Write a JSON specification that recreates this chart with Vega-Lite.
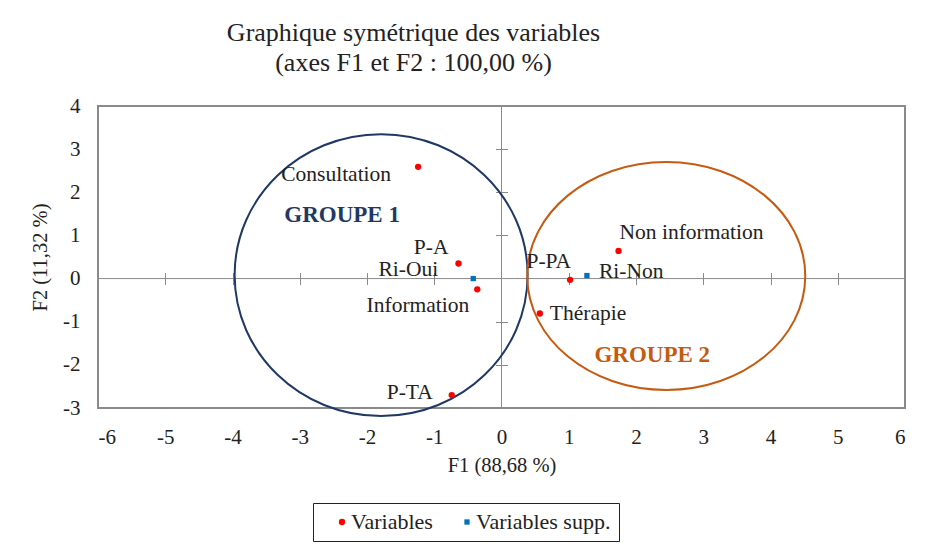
{
  "$schema": "https://vega.github.io/schema/vega-lite/v6.json",
  "width": 807,
  "height": 302,
  "autosize": "none",
  "padding": {"left": 98, "top": 106, "right": 28, "bottom": 144},
  "background": "white",
  "config": {
    "view": {"stroke": "#8a8a8a", "strokeWidth": 2},
    "font": "Liberation Serif",
    "axis": {"grid": false}
  },
  "title": {
    "text": ["Graphique symétrique des variables", "(axes F1 et F2 : 100,00 %)"],
    "fontSize": 26,
    "font": "Liberation Serif",
    "fontWeight": "normal",
    "lineHeight": 30,
    "anchor": "middle",
    "frame": "group",
    "dx": -88,
    "offset": 19,
    "color": "#222222"
  },
  "datasets": {
    "points": [
      {"name": "Consultation", "type": "Variables", "x": -1.24, "y": 2.59},
      {"name": "P-A", "type": "Variables", "x": -0.64, "y": 0.35},
      {"name": "Information", "type": "Variables", "x": -0.36, "y": -0.25},
      {"name": "P-TA", "type": "Variables", "x": -0.74, "y": -2.70},
      {"name": "P-PA", "type": "Variables", "x": 1.02, "y": -0.03},
      {"name": "Non information", "type": "Variables", "x": 1.74, "y": 0.64},
      {"name": "Thérapie", "type": "Variables", "x": 0.57, "y": -0.81},
      {"name": "Ri-Oui", "type": "Variables supp.", "x": -0.42, "y": 0.0},
      {"name": "Ri-Non", "type": "Variables supp.", "x": 1.27, "y": 0.07}
    ],
    "groups": [
      {"group": "GROUPE 1", "x": -1.79, "y": 0.08},
      {"group": "GROUPE 2", "x": 2.45, "y": 0.06}
    ]
  },
  "resolve": {"axis": {"x": "independent", "y": "independent"}},
  "layer": [
    {
      "data": {"values": [{}]},
      "mark": {"type": "rule", "color": "#8a8a8a", "strokeWidth": 1},
      "encoding": {
        "y": {
          "datum": 0, "type": "quantitative",
          "scale": {"domain": [-3, 4], "nice": false, "zero": false},
          "axis": {"orient": "left", "offset": -409.5, "domain": false, "labels": false, "ticks": true, "tickSize": 12, "tickColor": "#8a8a8a", "tickWidth": 1, "title": null, "grid": false, "values": [-2, -1, 1, 2, 3]}
        }
      }
    },
    {
      "data": {"values": [{}]},
      "mark": {"type": "rule", "color": "#8a8a8a", "strokeWidth": 1},
      "encoding": {
        "x": {
          "datum": 0, "type": "quantitative",
          "scale": {"domain": [-6, 6], "nice": false, "zero": false},
          "axis": {"orient": "bottom", "offset": -135.43, "domain": false, "labels": false, "ticks": true, "tickSize": 12, "tickColor": "#8a8a8a", "tickWidth": 1, "title": null, "grid": false, "values": [-5, -4, -3, -2, -1, 1, 2, 3, 4, 5]}
        }
      }
    },
    {
      "data": {"name": "groups"},
      "transform": [{"filter": "datum.group == 'GROUPE 1'"}],
      "mark": {"type": "point", "shape": "M -1 0 A 1 0.962 0 1 0 1 0 A 1 0.962 0 1 0 -1 0 Z", "size": 85849, "filled": false, "color": "#1f3864", "strokeWidth": 2, "opacity": 1, "clip": false},
      "encoding": {
        "x": {"field": "x", "type": "quantitative", "scale": {"domain": [-6, 6], "nice": false, "zero": false}, "axis": null},
        "y": {"field": "y", "type": "quantitative", "scale": {"domain": [-3, 4], "nice": false, "zero": false}, "axis": null}
      }
    },
    {
      "data": {"name": "groups"},
      "transform": [{"filter": "datum.group == 'GROUPE 2'"}],
      "mark": {"type": "point", "shape": "M -1 0 A 1 0.82 0 1 0 1 0 A 1 0.82 0 1 0 -1 0 Z", "size": 77284, "filled": false, "color": "#c55a11", "strokeWidth": 2, "opacity": 1, "clip": false},
      "encoding": {
        "x": {"field": "x", "type": "quantitative", "scale": {"domain": [-6, 6], "nice": false, "zero": false}, "axis": null},
        "y": {"field": "y", "type": "quantitative", "scale": {"domain": [-3, 4], "nice": false, "zero": false}, "axis": null}
      }
    },
    {
      "data": {"name": "groups"},
      "transform": [{"filter": "datum.group == 'GROUPE 1'"}],
      "mark": {"type": "text", "dx": -39, "dy": -60, "fontSize": 23, "fontWeight": "bold", "font": "Liberation Serif", "color": "#1f3864", "align": "center", "baseline": "middle"},
      "encoding": {
        "x": {"field": "x", "type": "quantitative", "scale": {"domain": [-6, 6], "nice": false, "zero": false}, "axis": null},
        "y": {"field": "y", "type": "quantitative", "scale": {"domain": [-3, 4], "nice": false, "zero": false}, "axis": null},
        "text": {"field": "group"}
      }
    },
    {
      "data": {"name": "groups"},
      "transform": [{"filter": "datum.group == 'GROUPE 2'"}],
      "mark": {"type": "text", "dx": -14, "dy": 79, "fontSize": 23, "fontWeight": "bold", "font": "Liberation Serif", "color": "#c55a11", "align": "center", "baseline": "middle"},
      "encoding": {
        "x": {"field": "x", "type": "quantitative", "scale": {"domain": [-6, 6], "nice": false, "zero": false}, "axis": null},
        "y": {"field": "y", "type": "quantitative", "scale": {"domain": [-3, 4], "nice": false, "zero": false}, "axis": null},
        "text": {"field": "group"}
      }
    },
    {
      "data": {"name": "points"},
      "mark": {"type": "point", "filled": true, "opacity": 1, "strokeWidth": 0},
      "encoding": {
        "x": {
          "field": "x", "type": "quantitative",
          "scale": {"domain": [-6, 6], "nice": false, "zero": false},
          "axis": {"orient": "bottom", "domain": false, "ticks": false, "tickSize": 0, "labelPadding": 18, "values": [-6, -5, -4, -3, -2, -1, 0, 1, 2, 3, 4, 5, 6], "labelExpr": "datum.value < 0 ? '-' + abs(datum.value) : '' + datum.value", "labelFont": "Liberation Serif", "labelFontSize": 21, "labelColor": "#222222", "title": "F1 (88,68 %)", "titleFont": "Liberation Serif", "titleFontSize": 20.5, "titleFontWeight": "normal", "titleColor": "#222222", "titlePadding": 8, "grid": false}
        },
        "y": {
          "field": "y", "type": "quantitative",
          "scale": {"domain": [-3, 4], "nice": false, "zero": false},
          "axis": {"orient": "left", "domain": false, "ticks": false, "tickSize": 0, "labelPadding": 18, "values": [-3, -2, -1, 0, 1, 2, 3, 4], "labelExpr": "datum.value < 0 ? '-' + abs(datum.value) : '' + datum.value", "labelFont": "Liberation Serif", "labelFontSize": 21, "labelColor": "#222222", "title": "F2 (11,32 %)", "titleFont": "Liberation Serif", "titleFontSize": 20.5, "titleFontWeight": "normal", "titleColor": "#222222", "titlePadding": 12, "grid": false}
        },
        "color": {
          "field": "type", "type": "nominal",
          "scale": {"domain": ["Variables", "Variables supp."], "range": ["#ff0000", "#0070c0"]},
          "legend": {"orient": "none", "legendX": 215, "legendY": 397, "direction": "horizontal", "title": null, "labelFont": "Liberation Serif", "labelFontSize": 22, "labelColor": "#222222", "strokeColor": "#222222", "padding": 8, "columnPadding": 13, "labelOffset": -2, "symbolSize": 30, "symbolOffset": 10, "symbolStrokeWidth": 0}
        },
        "shape": {
          "field": "type", "type": "nominal",
          "scale": {"domain": ["Variables", "Variables supp."], "range": ["circle", "square"]}
        },
        "size": {
          "field": "type", "type": "nominal",
          "scale": {"domain": ["Variables", "Variables supp."], "range": [40, 28]},
          "legend": null
        }
      }
    },
    {
      "data": {"name": "points"},
      "encoding": {
        "x": {"field": "x", "type": "quantitative", "scale": {"domain": [-6, 6], "nice": false, "zero": false}, "axis": null},
        "y": {"field": "y", "type": "quantitative", "scale": {"domain": [-3, 4], "nice": false, "zero": false}, "axis": null},
        "text": {"field": "name"}
      },
      "layer": [
        {"transform": [{"filter": "datum.name == 'Consultation'"}], "mark": {"type": "text", "align": "right", "baseline": "middle", "dx": -27, "dy": 8, "fontSize": 21.5, "font": "Liberation Serif", "color": "#222222"}},
        {"transform": [{"filter": "datum.name == 'P-A'"}], "mark": {"type": "text", "align": "right", "baseline": "middle", "dx": -10, "dy": -15, "fontSize": 21.5, "font": "Liberation Serif", "color": "#222222"}},
        {"transform": [{"filter": "datum.name == 'Ri-Oui'"}], "mark": {"type": "text", "align": "right", "baseline": "middle", "dx": -35, "dy": -9, "fontSize": 21.5, "font": "Liberation Serif", "color": "#222222"}},
        {"transform": [{"filter": "datum.name == 'Information'"}], "mark": {"type": "text", "align": "right", "baseline": "middle", "dx": -8, "dy": 17, "fontSize": 21.5, "font": "Liberation Serif", "color": "#222222"}},
        {"transform": [{"filter": "datum.name == 'P-TA'"}], "mark": {"type": "text", "align": "right", "baseline": "middle", "dx": -19, "dy": -2, "fontSize": 21.5, "font": "Liberation Serif", "color": "#222222"}},
        {"transform": [{"filter": "datum.name == 'P-PA'"}], "mark": {"type": "text", "align": "right", "baseline": "middle", "dx": 1, "dy": -18, "fontSize": 21.5, "font": "Liberation Serif", "color": "#222222"}},
        {"transform": [{"filter": "datum.name == 'Ri-Non'"}], "mark": {"type": "text", "align": "left", "baseline": "middle", "dx": 12, "dy": -4, "fontSize": 21.5, "font": "Liberation Serif", "color": "#222222"}},
        {"transform": [{"filter": "datum.name == 'Non information'"}], "mark": {"type": "text", "align": "left", "baseline": "middle", "dx": 1, "dy": -18, "fontSize": 21.5, "font": "Liberation Serif", "color": "#222222"}},
        {"transform": [{"filter": "datum.name == 'Thérapie'"}], "mark": {"type": "text", "align": "left", "baseline": "middle", "dx": 10, "dy": 0, "fontSize": 21.5, "font": "Liberation Serif", "color": "#222222"}}
      ]
    }
  ]
}
